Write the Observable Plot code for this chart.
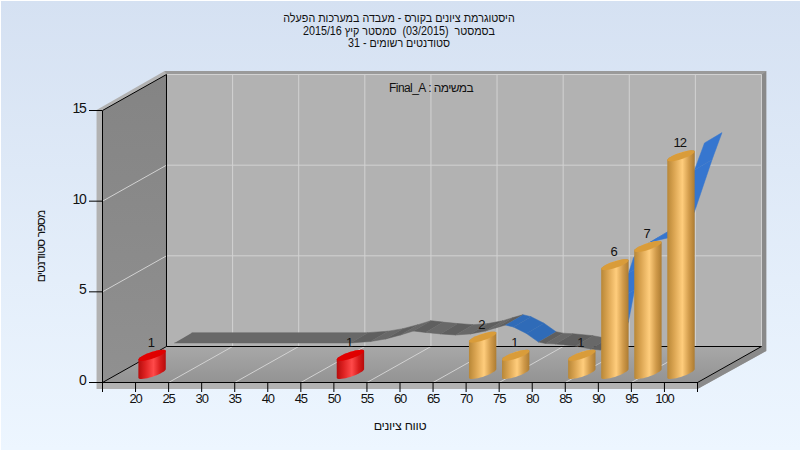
<!DOCTYPE html>
<html lang="he">
<head>
<meta charset="utf-8">
<script src="https://cdn.jsdelivr.net/npm/d3@7"></script>
<script src="https://cdn.jsdelivr.net/npm/@observablehq/plot@0.6"></script>
<style>
html,body{margin:0;padding:0;background:#edf6ff;}
#page{position:relative;width:800px;height:450px;overflow:hidden;background:linear-gradient(180deg,#d5e1f2 0%,#edf6ff 100%);box-shadow:inset 1px 1px 0 #fff;font-family:"Liberation Sans",sans-serif;color:#111;}
#title{height:56px;box-sizing:border-box;padding-top:12px;text-align:center;direction:rtl;font-size:12.5px;line-height:12.5px;width:798px;transform:scaleX(0.86);white-space:pre;}
.rtl{direction:rtl;letter-spacing:-0.6px;}
g[aria-label="y-axis tick label"]{letter-spacing:-1.3px;}
g[aria-label="x-axis tick label"]{letter-spacing:-1.1px;}
g[aria-label="y-axis label"]{font-size:12px;letter-spacing:-0.8px;}
g[aria-label="x-axis label"]{font-size:12.5px;letter-spacing:-0.3px;}
.vals{letter-spacing:-1px;}
</style>
</head>
<body>
<div id="page">
  <div id="title"></div>
</div>
<script>
const titleLines = [
  "היסטוגרמת ציונים בקורס - מעבדה במערכות הפעלה",
  "בסמסטר  (03/2015)  סמסטר קיץ 2015/16",
  "סטודנטים רשומים - 31"
];
const assignment = "במשימה : Final_A";
const xTitle = "טווח ציונים";
const yTitle = "מספר סטודנטים";

const binStarts = [20, 50, 70, 75, 85, 90, 95, 100];
const binCounts = [1, 1, 2, 1, 1, 6, 7, 12];
const failLimit = 55;

const xTicks = [15,20,25,30,35,40,45,50,55,60,65,70,75,80,85,90,95,100,105];
const yTicks = [0,5,10,15];
const gridX = [25,35,45,55,65,75,85,95];

// ribbon curve (front edge of the 3-D ribbon)
const curveGrade = [25.89,52.51,55.54,57.81,60.08,62.04,63.86,66.13,68.40,70.66,72.93,74.45,75.96,77.17,79.13,80.95,82.01,83.52,86.55,88.82,90.33,91.09,91.92,92.83,94.57,95.32,96.38,97.89,100.46,101.9,104.55,106.06];
const curveValue = [2.18,2.18,2.26,2.40,2.62,2.84,2.76,2.68,2.62,2.68,2.84,3.01,3.17,3.06,2.70,2.23,2.15,2.12,2.01,1.85,1.79,2.07,2.79,4.55,6.04,6.87,7.42,7.75,7.97,8.85,11.72,13.21];
const curveFace = ["a","b","a","b","a","b","a","b","a","b","a","b","u","u","u","b","a","b","a","b","a","b","v","v","v","v","v","v","v","v","v"];
const faceColors = {a:"#686868", b:"#5f5f5f", u:"#2f6bb8", v:"#3676cf"};

// oblique depth of the box, in data units
const DX = 9.68, DY = 1.985;
// ribbon depth in data units
const RX = 2.65, RY = 0.57;
const X0 = 15, X1 = 105, Y1 = 15;

function poly(pts, fill) {
  return Plot.line(pts, {x: d => d[0], y: d => d[1], fill, stroke: "none", curve: "linear"});
}
function seg(data, stroke) {
  return Plot.link(data, {x1: d => d[0], y1: d => d[1], x2: d => d[2], y2: d => d[3], stroke, strokeWidth: 1});
}

// ribbon faces
const ribbonPts = [];
curveFace.forEach((f, i) => {
  const c = faceColors[f];
  const a = [curveGrade[i], curveValue[i]], b = [curveGrade[i+1], curveValue[i+1]];
  [[a[0],a[1]],[b[0],b[1]],[b[0]+RX,b[1]+RY],[a[0]+RX,a[1]+RY]].forEach(p => ribbonPts.push({x:p[0], y:p[1], z:i, c}));
});

// cylinders
const BASE = 0.5, AX = 2.07, TILT = 0.237, MINOR = 0.19;
const ellipseAngles = d3.range(0, 37).map(i => i * Math.PI / 18);
const arcAngles = d3.range(0, 19).map(i => i * Math.PI / 18);
const bars = binStarts.map((g, i) => ({g, n: binCounts[i], cx: g + 2.5}));
function bodyPts(list) {
  const out = [];
  list.forEach((b, k) => {
    const top = BASE + b.n;
    arcAngles.forEach(t => { const a = Math.PI - t; out.push({z:k, x:b.cx + AX*Math.cos(a), y: top + TILT*Math.cos(a) + MINOR*Math.sin(a)}); });
    arcAngles.forEach(t => { out.push({z:k, x:b.cx + AX*Math.cos(t), y: BASE + TILT*Math.cos(t) - MINOR*Math.sin(t)}); });
  });
  return out;
}
function topPts(list) {
  const out = [];
  list.forEach((b, k) => ellipseAngles.forEach(t => out.push({z:k, x:b.cx + AX*Math.cos(t), y: BASE + b.n + TILT*Math.cos(t) - MINOR*Math.sin(t)})));
  return out;
}
const failing = bars.filter(b => b.g < failLimit), passing = bars.filter(b => b.g >= failLimit);

function defs() {
  const d = d3.create("svg:defs");
  const grad = (id, dir, stops) => {
    const g = d.append("linearGradient").attr("id", id);
    if (dir === "h") g.attr("x1",0).attr("x2",1).attr("y1",0).attr("y2",0);
    else g.attr("x1",0).attr("x2",0).attr("y1",0).attr("y2",1);
    stops.forEach(([o,c]) => g.append("stop").attr("offset",o).attr("stop-color",c));
  };
  grad("goldBody","h",[[0,"#b88737"],[0.25,"#dba552"],[0.55,"#ffcd7c"],[0.8,"#d09a4a"],[1,"#ad7c32"]]);
  grad("redBody","h",[[0,"#b40d0d"],[0.25,"#de2222"],[0.55,"#ff4a4a"],[0.8,"#d81c1c"],[1,"#b80b0b"]]);
  grad("floor","v",[[0,"#a8a8a8"],[1,"#939393"]]);
  grad("leftWall","v",[[0,"#848484"],[1,"#909090"]]);
  return d.node();
}

const plot = Plot.plot({
  width: 800, height: 394,
  marginLeft: 102, marginRight: 103, marginTop: 54, marginBottom: 68,
  x: {domain: [X0, X1]},
  y: {domain: [0, Y1]},
  color: {type: "identity"},
  style: {background: "transparent", fontFamily: '"Liberation Sans",sans-serif', fontSize: "14px", color: "#111", overflow: "visible"},
  marks: [
    defs,
    // outer frame
    poly([[14.1,15.03],[24.4,17.18],[115.4,17.18],[115.4,1.74],[105,-0.36],[14.1,-0.36]], "#b2b2b2"),
    poly([[24.4,17.18],[115.4,17.18],[114.68,16.985],[24.68,16.985]], "#9a9a9a"),
    poly([[114.68,16.985],[115.4,17.18],[115.4,1.74],[105,-0.36],[105,0],[114.68,DY]], "#8a8a8a"),
    // back wall, left wall, floor
    poly([[X0+DX,DY],[X1+DX,DY],[X1+DX,Y1+DY],[X0+DX,Y1+DY]], "#b2b2b2"),
    poly([[X0,0],[X0+DX,DY],[X0+DX,Y1+DY],[X0,Y1]], "url(#leftWall)"),
    poly([[X0,0],[X1,0],[X1+DX,DY],[X0+DX,DY]], "url(#floor)"),
    // grid
    seg([5,10,15].map(v => [X0+DX,v+DY,X1+DX,v+DY]), "#d2d2d2"),
    seg([5,10].map(v => [X0,v,X0+DX,v+DY]), "#d2d2d2"),
    seg(gridX.map(g => [g+DX,DY,g+DX,Y1+DY]), "#d2d2d2"),
    seg([[X1+DX,DY,X1+DX,Y1+DY]], "#d2d2d2"),
    seg(gridX.map(g => [g,0,g+DX,DY]), "#d2d2d2"),
    // box edges
    seg([[X0,0,X0,Y1],[X0+DX,DY,X0+DX,Y1+DY],[X0,Y1,X0+DX,Y1+DY],[X0,0,X0+DX,DY],[X0+DX,DY,X1+DX,DY],[X1,0,X1+DX,DY],[X0,0,X1,0]], "#000"),
    // axes
    Plot.axisY({ticks: yTicks, tickSize: 13, text: null, label: null, stroke: "#000"}),
    Plot.axisY({ticks: yTicks, tickSize: 0, tickPadding: 17, dy: -2, fontSize: 14, fill: "#111", label: yTitle, labelAnchor: "center", labelOffset: 66, labelArrow: "none"}),
    Plot.axisX({ticks: xTicks, tickSize: 10, text: null, label: null, stroke: "#000"}),
    Plot.axisX({ticks: xTicks, tickSize: 0, tickPadding: 11, fontSize: 13, fill: "#111", tickFormat: d => (d === X0 || d === X1) ? "" : d, label: xTitle, labelAnchor: "center", labelOffset: 47, labelArrow: "none"}),
    // ribbon
    Plot.line(ribbonPts, {x: "x", y: "y", z: "z", fill: "c", stroke: "c", strokeWidth: 0.5, curve: "linear"}),
    // cylinders
    Plot.line(bodyPts(failing), {x: "x", y: "y", z: "z", fill: "url(#redBody)", stroke: "none", curve: "linear"}),
    Plot.line(topPts(failing), {x: "x", y: "y", z: "z", fill: "#e00000", stroke: "none", curve: "linear"}),
    Plot.line(bodyPts(passing), {x: "x", y: "y", z: "z", fill: "url(#goldBody)", stroke: "none", curve: "linear"}),
    Plot.line(topPts(passing), {x: "x", y: "y", z: "z", fill: "#d99c3a", stroke: "none", curve: "linear"}),
    // value labels
    Plot.text(bars, {x: d => d.cx - 0.2, y: d => BASE + d.n + 0.7, text: d => String(d.n), fontSize: 13, fill: "#111", className: "vals"}),
    // assignment note
    Plot.text([assignment], {x: () => 64.7, y: () => 16.22, text: d => d, fontSize: 12, fill: "#111", className: "rtl"})
  ]
});

document.getElementById("title").innerHTML = titleLines.map(l => "<div>" + l + "</div>").join("");
document.getElementById("page").appendChild(plot);
</script>
</body>
</html>
